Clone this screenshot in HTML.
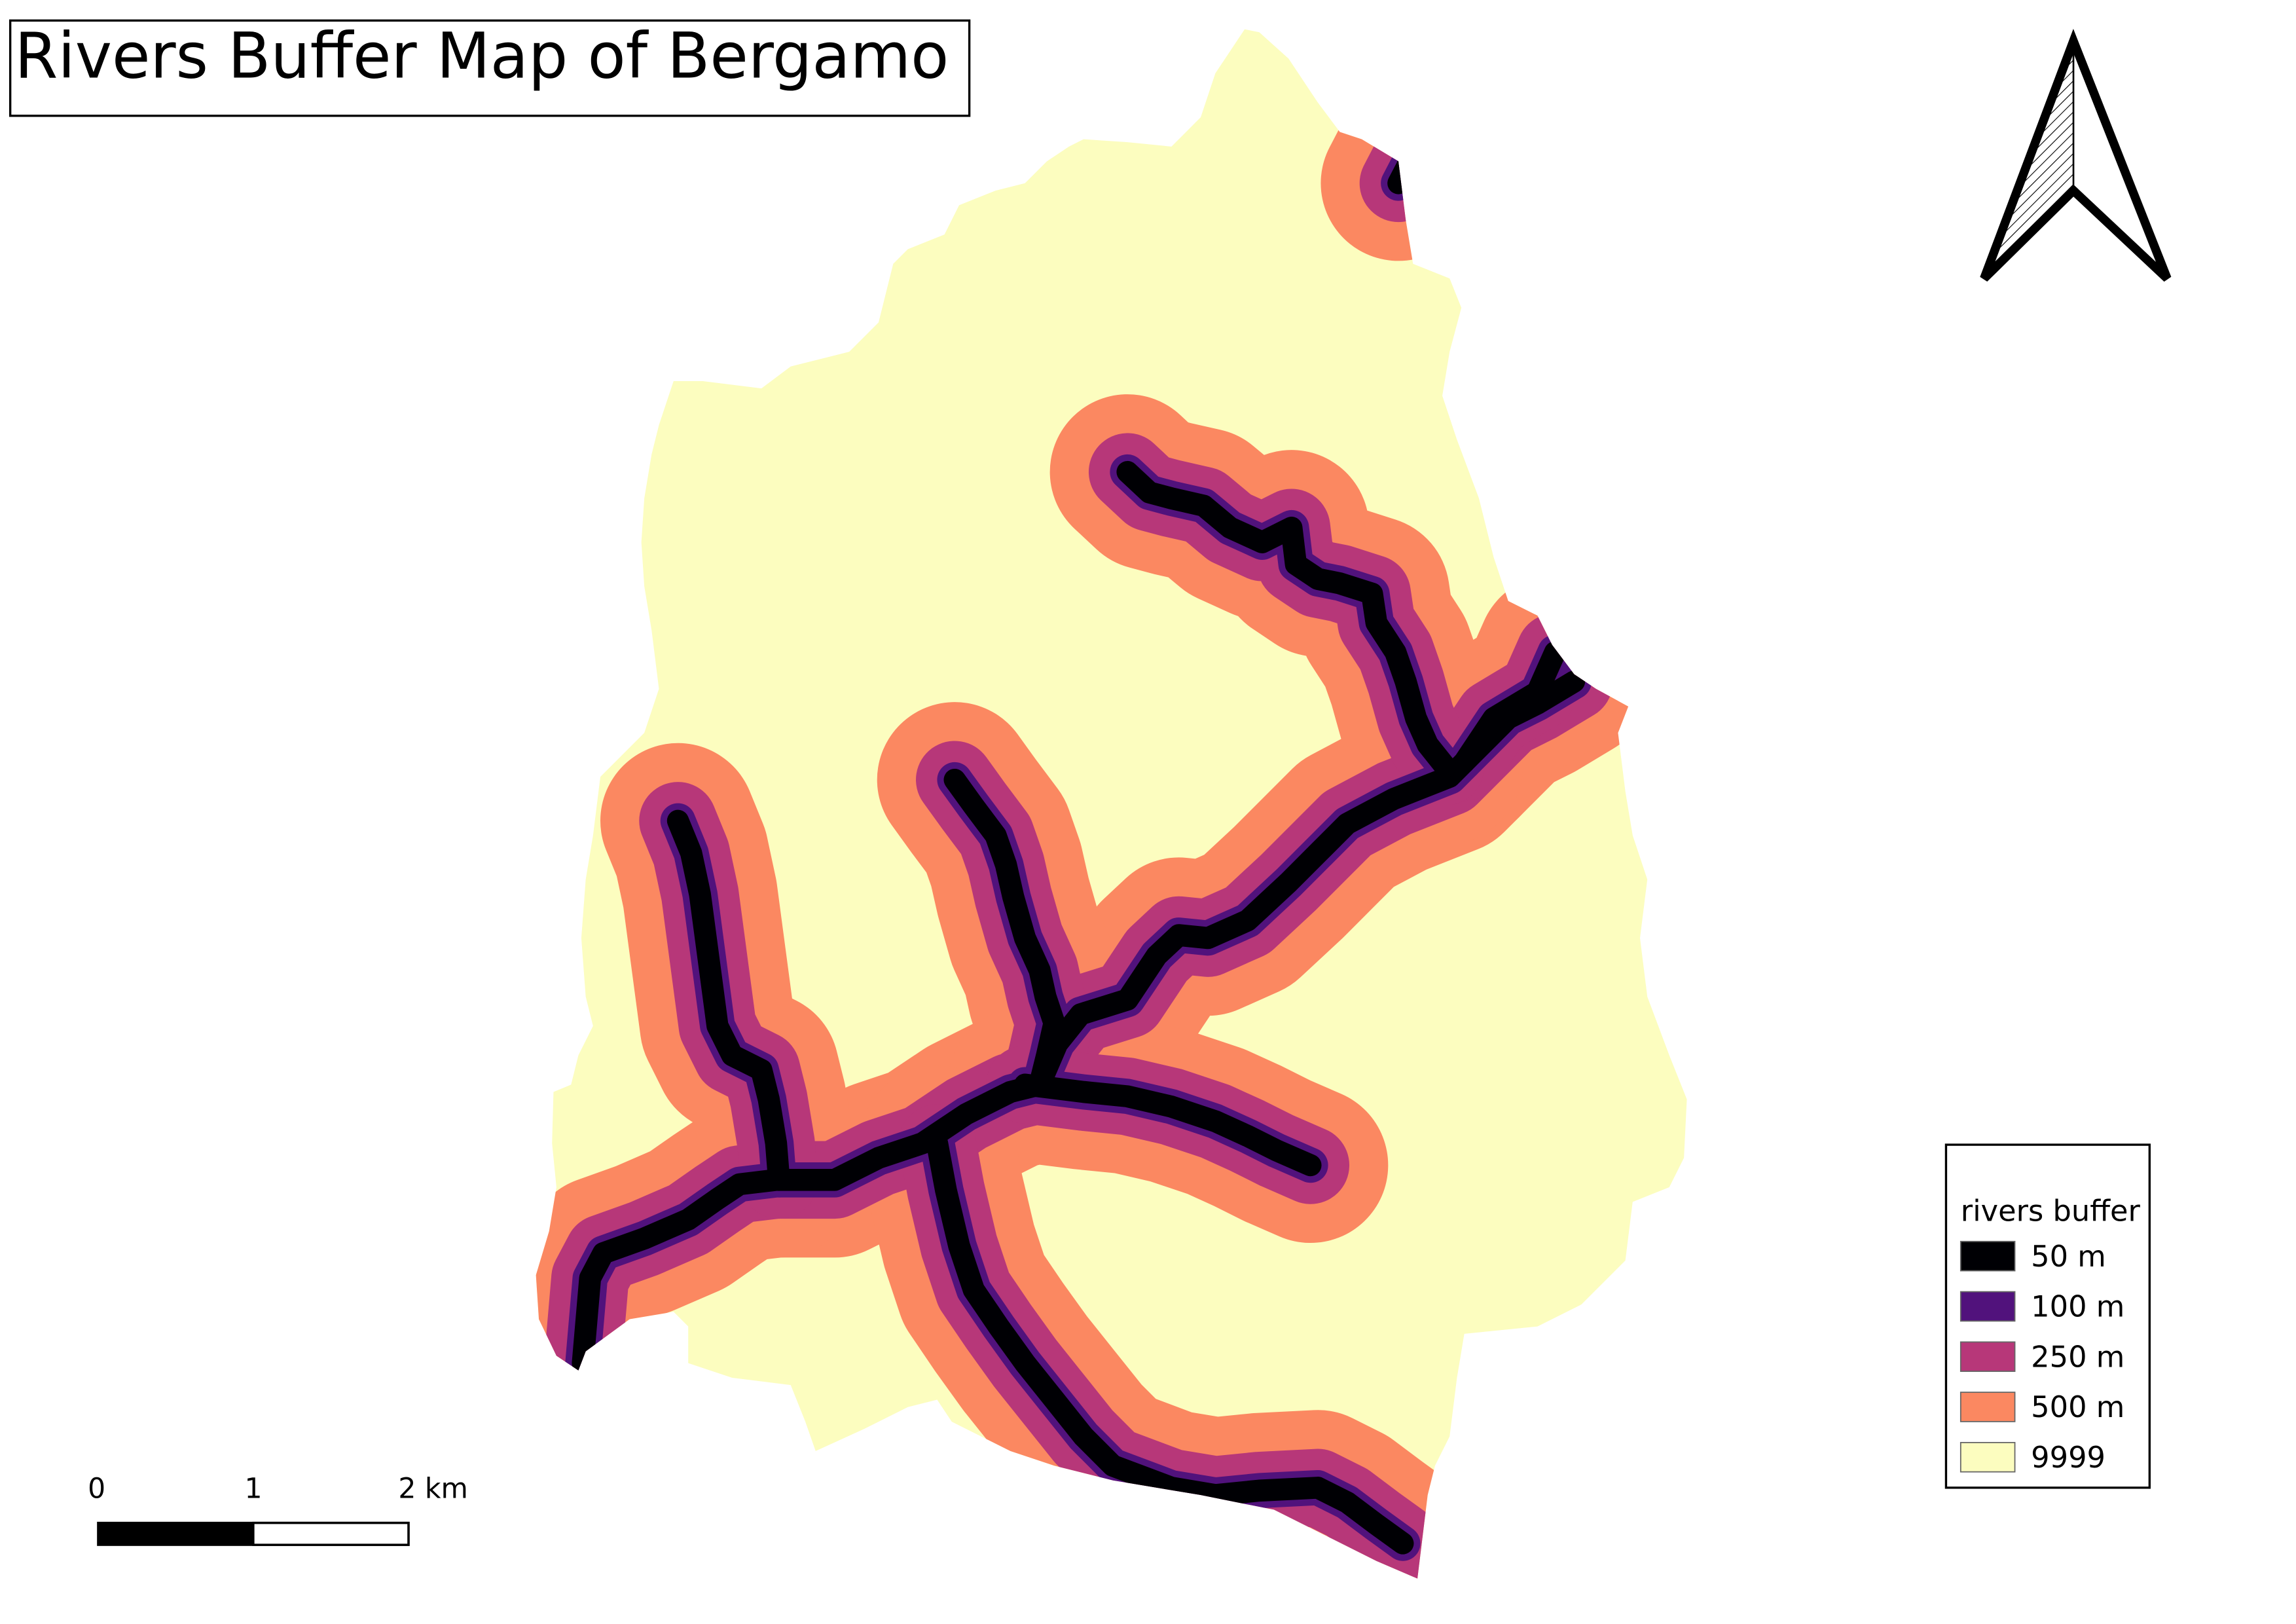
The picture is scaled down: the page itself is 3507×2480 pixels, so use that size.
<!DOCTYPE html>
<html><head><meta charset="utf-8"><style>
html,body{margin:0;padding:0;background:#fff;}
svg{display:block;}
text{font-family:"DejaVu Sans","Liberation Sans",sans-serif;}
</style></head><body>
<svg width="3507" height="2480" viewBox="0 0 1568 1108" preserveAspectRatio="none" xmlns="http://www.w3.org/2000/svg">
<defs>
<clipPath id="region"><polygon id="regionPoly" points="850,20 860,22 880,40 900,70 915,90 930,95 955,110 960,150 965,180 990,190 998,210 990,240 985,270 995,300 1010,340 1020,380 1030,410 1050,420 1060,440 1075,460 1090,470 1112,482 1105,500 1110,540 1115,570 1125,600 1120,640 1125,680 1140,720 1152,750 1150,790 1140,810 1115,820 1110,860 1080,890 1050,905 1000,910 995,940 990,980 980,1000 975,1020 968,1077 940,1065 910,1050 870,1030 820,1020 760,1010 720,1000 690,990 650,970 640,955 620,960 590,975 557,990 550,970 540,945 500,940 470,930 470,905 460,895 430,900 400,922 395,935 380,925 368,900 366,870 375,840 380,810 377,780 378,745 390,740 395,720 405,700 400,680 397,640 400,600 405,570 410,530 420,520 440,500 450,470 445,430 440,400 438,370 440,340 445,310 450,290 460,260 480,260 520,265 540,250 580,240 600,220 605,200 610,180 620,170 645,160 655,140 680,130 700,125 715,110 730,100 740,95 770,97 800,100 810,90 820,80 830,50 840,35"/></clipPath>
<pattern id="hatch" width="5" height="5" patternUnits="userSpaceOnUse" patternTransform="rotate(45)"><line x1="0" y1="0" x2="0" y2="5" stroke="#000" stroke-width="1"/></pattern>
</defs>
<use href="#regionPoly" fill="#fcfdbf"/>
<g id="rivers" clip-path="url(#region)" fill="none" stroke-linejoin="round" stroke-linecap="round"></g>

<g>
<rect x="7" y="14" width="655" height="65" fill="#fff" stroke="#000" stroke-width="1.5"/>
<text x="10" y="53" font-size="43" textLength="638" lengthAdjust="spacingAndGlyphs" style="font-family:'DejaVu Sans Condensed','DejaVu Sans',sans-serif;font-stretch:condensed" fill="#000">Rivers Buffer Map of Bergamo</text>
</g>

<g>
<polygon points="1416,28 1355,190 1416,130" fill="url(#hatch)" stroke="none"/>
<polygon points="1416,28 1355,190 1416,130 1480,190" fill="none" stroke="#000" stroke-width="6" stroke-linejoin="miter"/>
<line x1="1416" y1="28" x2="1416" y2="130" stroke="#000" stroke-width="1.2"/>
</g>

<g>
<rect x="67" y="1039" width="106" height="15" fill="#000"/>
<rect x="173" y="1039" width="106" height="15" fill="#fff" stroke="#000" stroke-width="1.5"/>
<rect x="67" y="1039" width="212" height="15" fill="none" stroke="#000" stroke-width="1.5"/>
<text x="60" y="1022" font-size="19">0</text>
<text x="167" y="1022" font-size="19">1</text>
<text x="272" y="1022" font-size="19">2 km</text>
</g>

<g>
<rect x="1329" y="781" width="139" height="234" fill="#fff" stroke="#000" stroke-width="1.5"/>
<text x="1339" y="833" font-size="20">rivers buffer</text>
<g id="legendItems"></g>
</g>
<script>
const legendLabels=["50 m","100 m","250 m","500 m","9999"];
const legendColors=["#000004","#51127c","#b73779","#fb8861","#fcfdbf"];
const bufferWidths=[106,53,24,15];
const bufferColors=["#fb8861","#b73779","#51127c","#000004"];
const riverLines=[
"398,930 403,872 412,855 440,845 470,832 490,818 505,808 530,805 570,805 600,790 630,780 660,760 690,745 710,740",
"710,740 722,712 738,692 770,682 790,652 805,638 825,640 852,628 880,602 900,582 920,562 952,545 990,530 1010,510 1030,490 1050,480 1075,465",
"1000,520 1020,490 1050,472 1062,445",
"987,523 975,508 967,490 960,465 953,445 940,425 937,405 915,398 900,395 885,385 882,360 862,370 840,360 822,345 800,340 785,336 770,322",
"710,740 715,720 720,698 714,680 710,662 700,640 692,612 687,590 680,570 665,550 652,532",
"532,805 530,780 525,750 520,730 500,720 490,700 486,670 482,640 478,610 472,582 463,560",
"700,740 740,745 770,748 800,755 830,765 852,775 872,785 895,795",
"640,780 646,812 655,850 665,880 682,905 700,930 720,955 740,980 760,1000 800,1015 830,1020 860,1017 900,1015 920,1025 940,1040 958,1053",
"968,100 955,125"
];
const ns="http://www.w3.org/2000/svg";
const rg=document.getElementById('rivers');
bufferWidths.forEach((w,i)=>{
  riverLines.forEach((pts,j)=>{
    const p=document.createElementNS(ns,'polyline');
    p.setAttribute('points',pts);
    p.setAttribute('stroke',bufferColors[i]);
    p.setAttribute('stroke-width',w);
    
    
    rg.appendChild(p);
  });
});
const lg=document.getElementById('legendItems');
legendLabels.forEach((l,i)=>{
  const y=847+i*34.3;
  const r=document.createElementNS(ns,'rect');
  r.setAttribute('x',1339);r.setAttribute('y',y);r.setAttribute('width',37);r.setAttribute('height',20);
  r.setAttribute('fill',legendColors[i]);r.setAttribute('stroke','#666');r.setAttribute('stroke-width','0.8');
  
  
  lg.appendChild(r);
  const t=document.createElementNS(ns,'text');
  t.setAttribute('x',1387);t.setAttribute('y',y+17);t.setAttribute('font-size','20');
  t.textContent=l;
  
  
  lg.appendChild(t);
});
</script>
</svg>
</body></html>
